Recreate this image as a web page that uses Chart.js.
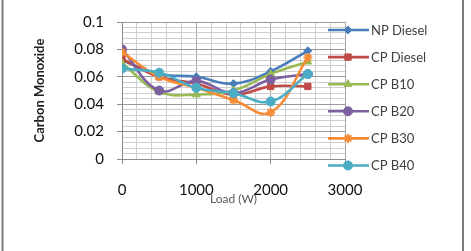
<!DOCTYPE html>
<html>
<head>
<meta charset="utf-8">
<script src="https://cdn.jsdelivr.net/npm/chart.js@4/dist/chart.umd.min.js"></script>
<style>
html,body{margin:0;padding:0;background:#fff;}
#wrap{width:471px;height:251px;position:relative;}
</style>
</head>
<body>
<div id="wrap"><canvas id="c" width="471" height="251"></canvas></div>
<script>
const loads = [0, 500, 1000, 1500, 2000, 2500];
const npDiesel = [0.072, 0.062, 0.060, 0.055, 0.064, 0.079];
const cpDiesel = [0.073, 0.060, 0.055, 0.047, 0.053, 0.053];
const cpB10 = [0.070, 0.049, 0.047, 0.050, 0.062, 0.071];
const cpB20 = [0.080, 0.050, 0.057, 0.048, 0.058, 0.062];
const cpB30 = [0.078, 0.060, 0.052, 0.043, 0.034, 0.074];
const cpB40 = [0.066, 0.063, 0.052, 0.048, 0.042, 0.062];
const seriesNames = ['NP Diesel', 'CP Diesel', 'CP B10', 'CP B20', 'CP B30', 'CP B40'];
const xTickLabels = [0, 1000, 2000, 3000];
const yTickLabels = [0, 0.02, 0.04, 0.06, 0.08, 0.1];

const seriesValues = [npDiesel, cpDiesel, cpB10, cpB20, cpB30, cpB40];
const colors = ['#4A7EBB', '#BE4B48', '#98B954', '#7D60A0', '#F68C36', '#4BACC6'];
const styles = ['rectRot', 'rect', 'triangle', 'circle', 'star', 'circle'];
const radii = [4, 4.5, 4.5, 4.5, 4.5, 4.5];

function isLabelled(v, list) {
  return list.some(t => Math.abs(t - v) < 1e-9);
}

const datasets = seriesNames.map((name, i) => ({
  label: name,
  data: loads.map((x, j) => ({x: x, y: seriesValues[i][j]})),
  borderColor: colors[i],
  backgroundColor: colors[i],
  pointBackgroundColor: colors[i],
  pointBorderColor: colors[i],
  pointStyle: styles[i],
  pointRadius: radii[i],
  pointBorderWidth: styles[i] === 'star' ? 2 : 1,
  borderWidth: 2.6,
  tension: 0.4,
  order: 6 - i,
  fill: false
}));

const frame = {
  id: 'frame',
  beforeDraw(chart) {
    const ctx = chart.ctx;
    ctx.save();
    ctx.fillStyle = '#fff';
    ctx.fillRect(0, 0, chart.width, chart.height);
    ctx.strokeStyle = '#7a7a7a';
    ctx.lineWidth = 2;
    ctx.beginPath();
    ctx.moveTo(2.5, 0); ctx.lineTo(2.5, chart.height);
    ctx.moveTo(463, 0); ctx.lineTo(463, chart.height);
    ctx.stroke();
    ctx.restore();
  }
};

const customLegend = {
  id: 'customLegend',
  afterDraw(chart) {
    const ctx = chart.ctx;
    ctx.save();
    chart.data.datasets.forEach((ds, i) => {
      const y = 30 + i * 27.1;
      ctx.strokeStyle = ds.borderColor;
      ctx.lineWidth = 2.6;
      ctx.beginPath();
      ctx.moveTo(328, y);
      ctx.lineTo(369, y);
      ctx.stroke();
      const opts = {
        pointStyle: ds.pointStyle,
        radius: ds.pointRadius,
        borderWidth: ds.pointBorderWidth,
        rotation: 0
      };
      ctx.fillStyle = ds.pointBackgroundColor;
      ctx.strokeStyle = ds.pointBorderColor;
      ctx.lineWidth = ds.pointBorderWidth;
      Chart.helpers.drawPoint(ctx, opts, 348, y);
      ctx.fillStyle = '#404040';
      ctx.font = '13px Lato';
      ctx.textBaseline = 'middle';
      ctx.textAlign = 'left';
      ctx.fillText(ds.label, 371, y + 0.5);
    });
    ctx.restore();
  }
};

new Chart(document.getElementById('c'), {
  type: 'line',
  data: {datasets: datasets},
  plugins: [frame, customLegend],
  options: {
    responsive: false,
    animation: false,
    events: [],
    layout: {padding: {left: 0, right: 126, top: 12, bottom: 0}},
    plugins: {legend: {display: false}, tooltip: {enabled: false}},
    scales: {
      x: {
        type: 'linear',
        min: 0, max: 3000,
        afterFit(s) { s.height = 92; },
        ticks: {
          stepSize: 200,
          autoSkip: false,
          maxRotation: 0,
          padding: 17,
          color: '#111',
          font: {family: 'Lato', size: 15},
          callback: v => isLabelled(v, xTickLabels) ? String(v) : ''
        },
        grid: {
          color: c => (c.tick && isLabelled(c.tick.value, xTickLabels)) ? '#a8a8a8' : '#cfcfcf',
          tickColor: c => (c.tick && isLabelled(c.tick.value, xTickLabels)) ? '#8c8c8c' : 'rgba(0,0,0,0)',
          tickLength: 5,
          lineWidth: 1
        },
        border: {color: '#8c8c8c', width: 1},
        title: {
          display: true,
          text: 'Load (W)',
          color: '#595959',
          font: {family: 'Lato', size: 12},
          padding: {top: 0, bottom: 45}
        }
      },
      y: {
        min: 0, max: 0.1,
        afterFit(s) { s.width = 122; },
        ticks: {
          stepSize: 0.004,
          autoSkip: false,
          padding: 13,
          color: '#111',
          font: {family: 'Lato', size: 15},
          callback: v => isLabelled(v, yTickLabels) ? String(parseFloat(v.toFixed(3))) : ''
        },
        grid: {
          color: c => (c.tick && isLabelled(c.tick.value, yTickLabels)) ? '#9a9a9a' : '#cfcfcf',
          tickColor: c => (c.tick && isLabelled(c.tick.value, yTickLabels)) ? '#8c8c8c' : 'rgba(0,0,0,0)',
          tickLength: 5,
          lineWidth: 1
        },
        border: {color: '#8c8c8c', width: 1},
        title: {
          display: true,
          text: 'Carbon Monoxide',
          color: '#222',
          font: {family: 'Lato', size: 13, weight: 'bold'},
          padding: {top: 32, bottom: 0}
        }
      }
    }
  }
});
</script>
</body>
</html>
